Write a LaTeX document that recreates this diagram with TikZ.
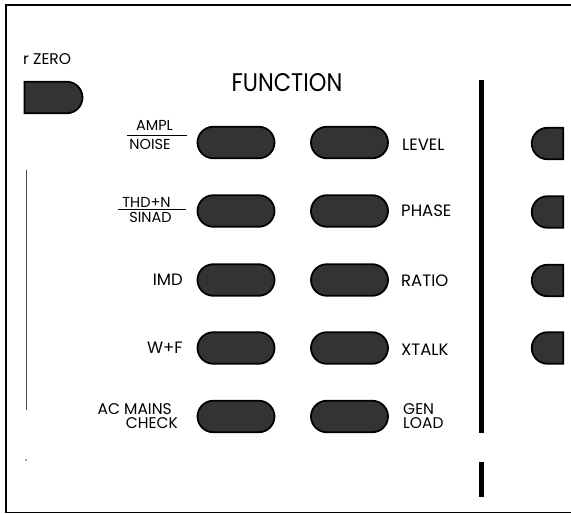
\documentclass[tikz,border=0pt]{standalone}
\usepackage{fontspec}
\setmainfont{Poppins}
\newfontfamily\titlefont[FakeStretch=0.88]{Poppins}
\usetikzlibrary{shapes.misc}
\begin{document}
\begin{tikzpicture}[x=1pt,y=-1pt,
  btnbase/.style={rounded rectangle, minimum height=31.5pt, inner sep=0pt,
              fill=black!80, draw=black, line width=1.8pt},
  btn/.style={btnbase, minimum width=77pt},
  halfbtn/.style={btnbase, rounded rectangle right arc=none, minimum width=18pt},
  zerobtn/.style={btnbase, rounded rectangle left arc=none, minimum width=58pt},
  lab/.style={inner sep=0pt, font=\fontsize{16.5}{14}\selectfont},
  twolab/.style={inner sep=0pt, font=\fontsize{15.5}{14.5}\selectfont},
  flab/.style={inner sep=0pt, font=\fontsize{14.5}{14.5}\selectfont},
  title/.style={inner sep=0pt, font=\titlefont\fontsize{25.5}{25.5}\selectfont},
  rule/.style={line width=0.8pt}
]
\useasboundingbox (0,0) rectangle (571,514);
% frame
\draw[line width=1.8pt] (571,5) -- (6,5) -- (6,512.5) -- (571,512.5);
% thin left line
\draw[line width=0.7pt, black!70] (26,170) -- (26,410);
\fill[black!70] (26,460) circle (0.8);
% thick divider
\draw[line width=5pt] (481.5,80) -- (481.5,433);
\draw[line width=5pt] (481.5,462) -- (481.5,497);

% title
\node[title, anchor=base] (func) at (287,91) {FUNCTION};
% r ZERO
\node[lab, anchor=base west, font=\fontsize{15.5}{15.5}\selectfont] (rzero) at (23,64) {r ZERO};
\node[zerobtn] (zb) at (53.5,97.5) {};

% buttons
\node[btn] (b11) at (236,142.5) {};
\node[btn] (b12) at (349.5,142.5) {};
\node[btn] (b21) at (236,211) {};
\node[btn] (b22) at (349.5,211) {};
\node[btn] (b31) at (236,280) {};
\node[btn] (b32) at (349.5,280) {};
\node[btn] (b41) at (236,348) {};
\node[btn] (b42) at (349.5,348) {};
\node[btn] (b51) at (236,416.5) {};
\node[btn] (b52) at (349.5,416.5) {};

% half buttons at right
\node[halfbtn] (h1) at (547.5,143.5) {};
\node[halfbtn] (h2) at (547.5,212) {};
\node[halfbtn] (h3) at (547.5,280.5) {};
\node[halfbtn] (h4) at (547.5,348) {};

% left labels
\node[flab, anchor=base] (ampl) at (154.5,130.5) {AMPL};
\node[flab, anchor=base] (noise) at (150,149.3) {NOISE};
\coordinate (al) at (127,135.5);
\coordinate (ar) at (187,135.5);
\draw[rule] (al) -- (ar);
\node[flab, anchor=base] (thd) at (146.5,207) {THD+N};
\node[flab, anchor=base] (sinad) at (150.5,222) {SINAD};
\coordinate (tl) at (118,209.5);
\coordinate (tr) at (186,209.5);
\draw[rule] (tl) -- (tr);
\node[lab, anchor=base east] (imd) at (183,285) {IMD};
\node[lab, anchor=base east] (wf) at (183,353) {W+F};
\node[twolab, anchor=base east, align=right] (acm) at (178,428.5) {AC MAINS\hspace*{6pt}\\CHECK};

% right labels
\node[lab, anchor=base west] (level) at (402,150) {LEVEL};
\node[lab, anchor=base west] (phase) at (401,216.7) {PHASE};
\node[lab, anchor=base west] (ratio) at (401,286) {RATIO};
\node[lab, anchor=base west] (xtalk) at (401,355) {XTALK};
\node[twolab, anchor=base west, align=left] (gen) at (403,428.5) {GEN\\LOAD};
\end{tikzpicture}
\end{document}
